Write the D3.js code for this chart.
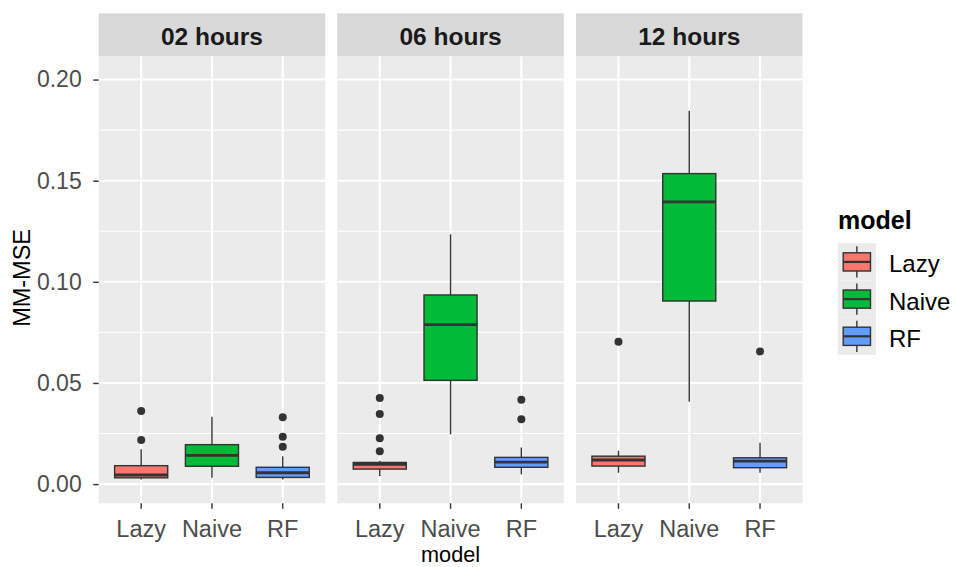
<!DOCTYPE html>
<html>
<head>
<meta charset="utf-8">
<script src="https://cdn.jsdelivr.net/npm/d3@7"></script>
<style>
  body { margin: 0; background: #fff; }
  svg { font-family: "Liberation Sans", Arial, sans-serif; }
</style>
</head>
<body>
<svg width="956" height="567"></svg>
<script>
const facets = ["02 hours", "06 hours", "12 hours"]
const models = ["Lazy", "Naive", "RF"]
const colors = ["#F8766D", "#00BA38", "#619CFF"]

// box stats, one row per facet, one value per model
const whiskerLow = [[0.0023, 0.0031, 0.0023], [0.0040, 0.0246, 0.0048], [0.0056, 0.0407, 0.0056]]
const q1 = [[0.0031, 0.0088, 0.0033], [0.0074, 0.0513, 0.0083], [0.0089, 0.0905, 0.0081]]
const median = [[0.0045, 0.0142, 0.0056], [0.0097, 0.0788, 0.0109], [0.0119, 0.1395, 0.0114]]
const q3 = [[0.0091, 0.0195, 0.0083], [0.0107, 0.0935, 0.0132], [0.0138, 0.1535, 0.0130]]
const whiskerHigh = [[0.0172, 0.0333, 0.0138], [0.0115, 0.1235, 0.0181], [0.0165, 0.1846, 0.0204]]
const outliers = [
  [[0.0361, 0.0218], [], [0.0331, 0.0234, 0.0185]],
  [[0.0425, 0.0346, 0.0226, 0.0162], [], [0.0417, 0.0321]],
  [[0.0704], [], [0.0656]]
]

const yTicks = [0, 0.05, 0.10, 0.15, 0.20]
const yMinor = [0.025, 0.075, 0.125, 0.175]

const svg = d3.select("svg")

const panelTop = 56.5
const panelBottom = 503.3
const panelW = 226.5
const panelX = [98.7, 337.3, 576]

const y = d3.scaleLinear()
  .domain([-0.0095, 0.2114])
  .range([panelBottom, panelTop])

facets.forEach((f, i) => {
  const x0 = panelX[i]
  const x = d3.scaleBand()
    .domain(models)
    .range([x0, x0 + panelW])
    .paddingInner(0.25)
    .paddingOuter(0.225)
  const g = svg.append("g")

  // strip
  g.append("rect")
    .attr("x", x0).attr("y", 13.3)
    .attr("width", panelW).attr("height", panelTop - 13.3)
    .attr("fill", "#D9D9D9")
  g.append("text")
    .attr("x", x0 + panelW / 2).attr("y", 45)
    .attr("text-anchor", "middle")
    .style("font-size", "24.5px").style("font-weight", "bold")
    .attr("fill", "#1A1A1A")
    .text(f)

  // panel
  g.append("rect")
    .attr("x", x0).attr("y", panelTop)
    .attr("width", panelW).attr("height", panelBottom - panelTop)
    .attr("fill", "#EBEBEB")

  g.selectAll(".minor")
    .data(yMinor)
    .join("line")
    .attr("x1", x0).attr("x2", x0 + panelW)
    .attr("y1", d => y(d)).attr("y2", d => y(d))
    .attr("stroke", "#fff").attr("stroke-width", 1.1)

  g.selectAll(".major")
    .data(yTicks)
    .join("line")
    .attr("x1", x0).attr("x2", x0 + panelW)
    .attr("y1", d => y(d)).attr("y2", d => y(d))
    .attr("stroke", "#fff").attr("stroke-width", 2.1)

  g.selectAll(".vmajor")
    .data(models)
    .join("line")
    .attr("x1", d => x(d) + x.bandwidth() / 2).attr("x2", d => x(d) + x.bandwidth() / 2)
    .attr("y1", panelTop).attr("y2", panelBottom)
    .attr("stroke", "#fff").attr("stroke-width", 2.1)

  // boxes
  models.forEach((m, j) => {
    const cx = x(m) + x.bandwidth() / 2
    const b = g.append("g")
    b.append("line")
      .attr("x1", cx).attr("x2", cx)
      .attr("y1", y(whiskerHigh[i][j])).attr("y2", y(q3[i][j]))
      .attr("stroke", "#333").attr("stroke-width", 1.4)
    b.append("line")
      .attr("x1", cx).attr("x2", cx)
      .attr("y1", y(q1[i][j])).attr("y2", y(whiskerLow[i][j]))
      .attr("stroke", "#333").attr("stroke-width", 1.4)
    b.append("rect")
      .attr("x", x(m)).attr("width", x.bandwidth())
      .attr("y", y(q3[i][j])).attr("height", y(q1[i][j]) - y(q3[i][j]))
      .attr("fill", colors[j])
      .attr("stroke", "#333").attr("stroke-width", 1.4)
    b.append("line")
      .attr("x1", x(m)).attr("x2", x(m) + x.bandwidth())
      .attr("y1", y(median[i][j])).attr("y2", y(median[i][j]))
      .attr("stroke", "#333").attr("stroke-width", 2.8)
    b.selectAll("circle")
      .data(outliers[i][j])
      .join("circle")
      .attr("cx", cx).attr("cy", d => y(d))
      .attr("r", 4).attr("fill", "#333")
  })

  // x axis
  const xAxis = g.append("g")
    .attr("transform", `translate(0,${panelBottom})`)
    .call(d3.axisBottom(x).tickSize(5.5).tickPadding(11.2))
  xAxis.select(".domain").remove()
  xAxis.selectAll("line").attr("stroke", "#333").attr("stroke-width", 1.4)
  xAxis.selectAll("text")
    .attr("fill", "#4D4D4D")
    .style("font-size", "23.5px")
    .style("font-family", "Liberation Sans, Arial, sans-serif")
})

// y axis
const yAxis = svg.append("g")
  .attr("transform", `translate(${panelX[0]},0)`)
  .call(d3.axisLeft(y).tickValues(yTicks).tickFormat(d3.format(".2f")).tickSize(5.5).tickPadding(11.5))
yAxis.select(".domain").remove()
yAxis.selectAll("line").attr("stroke", "#333").attr("stroke-width", 1.4)
yAxis.selectAll("text")
  .attr("fill", "#4D4D4D")
  .style("font-size", "23px")
  .style("font-family", "Liberation Sans, Arial, sans-serif")

// axis titles
svg.append("text")
  .attr("transform", `translate(22.2,${(panelTop + panelBottom) / 2 - 2}) rotate(-90)`)
  .attr("text-anchor", "middle")
  .attr("dominant-baseline", "central")
  .style("font-size", "23.5px")
  .attr("fill", "#000")
  .text("MM-MSE")

svg.append("text")
  .attr("x", (panelX[0] + panelX[2] + panelW) / 2)
  .attr("y", 562)
  .attr("text-anchor", "middle")
  .style("font-size", "21.7px")
  .attr("fill", "#000")
  .text("model")

// legend
const legend = svg.append("g")
svg.append("text")
  .attr("x", 838).attr("y", 229.3)
  .style("font-size", "25px").style("font-weight", "bold")
  .text("model")

const keyH = 37.2
const keyX = 837.7
const keyY = 243.3
models.forEach((m, j) => {
  const ky = keyY + j * keyH
  const k = legend.append("g")
  k.append("rect")
    .attr("x", keyX).attr("y", ky)
    .attr("width", 38.3).attr("height", keyH)
    .attr("fill", "#EBEBEB")
  const cx = keyX + 19.15
  k.append("line")
    .attr("x1", cx).attr("x2", cx).attr("y1", ky + 3).attr("y2", ky + keyH - 3)
    .attr("stroke", "#333").attr("stroke-width", 1.4)
  k.append("rect")
    .attr("x", keyX + 5.5).attr("y", ky + 9.5)
    .attr("width", 27.3).attr("height", keyH - 19)
    .attr("fill", colors[j]).attr("stroke", "#333").attr("stroke-width", 1.4)
  k.append("line")
    .attr("x1", keyX + 5.5).attr("x2", keyX + 32.8)
    .attr("y1", ky + keyH / 2).attr("y2", ky + keyH / 2)
    .attr("stroke", "#333").attr("stroke-width", 2.2)
  k.append("text")
    .attr("x", 889).attr("y", ky + keyH / 2 + 2)
    .attr("dominant-baseline", "central")
    .style("font-size", "24px")
    .attr("fill", "#000")
    .text(m)
})
</script>
</body>
</html>
